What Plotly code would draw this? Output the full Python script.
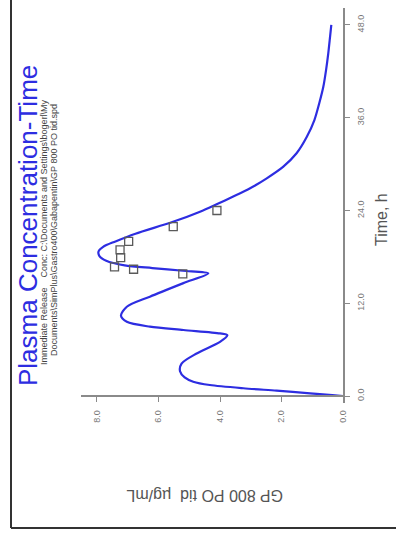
import plotly.graph_objects as go

# ---- data (time in h, concentration in µg/mL) ----
t_curve = [0.0, 0.13, 0.35, 0.69, 1.0, 1.42, 1.85, 2.4, 3.2, 4.2, 5.5, 7.0, 7.85, 8.1, 8.54, 8.97,
           9.6, 10.4, 11.55, 12.85, 14.6, 15.87, 16.2, 16.55, 16.9, 17.5, 18.1, 18.7, 19.3, 20.0,
           21.0, 22.5, 23.84, 24.8, 25.8, 26.87, 28.16, 29.67, 31.4, 33.5, 35.7, 37.9, 40.0, 42.2,
           44.3, 46.5, 48.0]
c_curve = [0.0, 0.35, 1.07, 2.16, 3.24, 4.33, 4.87, 5.15, 5.3, 5.25, 4.76, 4.0, 3.76, 4.0, 5.19, 6.28,
           7.03, 7.22, 7.03, 6.28, 5.19, 4.38, 5.2, 6.2, 7.1, 7.7, 7.92, 7.95, 7.8, 7.4,
           6.75, 5.55, 4.65, 4.11, 3.57, 3.02, 2.48, 1.94, 1.51, 1.18, 0.93, 0.77, 0.64, 0.55,
           0.48, 0.42, 0.38]

t_obs = [15.8, 16.4, 16.7, 17.9, 18.9, 20.0, 21.9, 24.0]
c_obs = [5.21, 6.81, 7.43, 7.23, 7.25, 6.97, 5.52, 4.10]

time_ticks = [0, 12, 24, 36, 48]
time_ticktext = ["0.0", "12.0", "24.0", "36.0", "48.0"]
conc_ticks = [0, 2, 4, 6, 8]
conc_ticktext = ["0.0", "2.0", "4.0", "6.0", "8.0"]

title_text = "Plasma Concentration-Time"
sub1 = "Immediate Release    Conc: C:\\Documents and Settings\\bogerl\\My"
sub2 = "Documents\\SimPlus\\Gastro400\\Gabapentin\\GP 800 PO tid.spd"
time_title = "Time, h"
conc_title = "GP 800 PO tid  µg/mL"

# ---- layout geometry (pixels) ----
W, H = 396, 541
L, R, T, B = 81, 343, 8, 403
pw, ph = R - L, B - T


def px(x):
    return (x - L) / pw


def py(y):
    return (B - y) / ph


BLUE = "rgb(45,45,225)"
AX = "#8a8a8a"

fig = go.Figure()
fig.add_trace(go.Scatter(x=c_curve, y=t_curve, mode="lines",
                         line=dict(color=BLUE, width=2.2, shape="spline", smoothing=0.8),
                         hoverinfo="skip", showlegend=False))
fig.add_trace(go.Scatter(x=c_obs, y=t_obs, mode="markers",
                         marker=dict(symbol="square-open", size=8, color="#5a5a5a",
                                     line=dict(width=1.3, color="#5a5a5a")),
                         showlegend=False))

fig.update_layout(
    width=W, height=H,
    margin=dict(l=L, r=W - R, t=T, b=H - B),
    paper_bgcolor="white", plot_bgcolor="white",
    font=dict(family="Liberation Sans, Arial, sans-serif"),
    xaxis=dict(range=[8.52, 0], tickvals=conc_ticks, ticktext=conc_ticktext,
               tickangle=-90, ticks="outside", ticklen=5, tickcolor=AX, tickwidth=1.2,
               showline=True, linecolor=AX, linewidth=1.5, showgrid=False, zeroline=False,
               anchor="free", position=py(396), ticklabelstandoff=5,
               tickfont=dict(size=9, color="#777")),
    yaxis=dict(range=[(396 - B) / 7.73, (396 - T) / 7.73], tickvals=time_ticks,
               ticktext=time_ticktext, side="right", tickangle=-90,
               ticks="outside", ticklen=5, tickcolor=AX, tickwidth=1.2,
               showline=True, linecolor=AX, linewidth=1.5, showgrid=False, zeroline=False,
               ticklabelstandoff=3,
               tickfont=dict(size=9, color="#777")),
)

common = dict(xref="paper", yref="paper", showarrow=False, xanchor="center", yanchor="middle")
ann = []
ann.append(dict(x=px(28), y=py(226), text=title_text, textangle=-90,
                font=dict(size=26, color=BLUE), **common))
ann.append(dict(x=px(44), y=py(232), text=sub1, textangle=-90,
                font=dict(size=9, color="#444"), **common))
ann.append(dict(x=px(54), y=py(230), text=sub2, textangle=-90,
                font=dict(size=9, color="#444"), **common))
ann.append(dict(x=px(381), y=py(220), text=time_title, textangle=-90,
                font=dict(size=16, color="#555"), **common))
ann.append(dict(x=px(205), y=py(495), text=conc_title, textangle=180,
                font=dict(size=16, color="#555"), **common))
fig.update_layout(annotations=ann)

fig.add_shape(type="line", xref="paper", yref="paper", x0=px(11), x1=px(11), y0=py(-2), y1=py(528),
              line=dict(color="#333", width=2))
fig.add_shape(type="line", xref="paper", yref="paper", x0=px(11), x1=px(398), y0=py(528), y1=py(528),
              line=dict(color="#333", width=2))

fig.write_html("out.html")
